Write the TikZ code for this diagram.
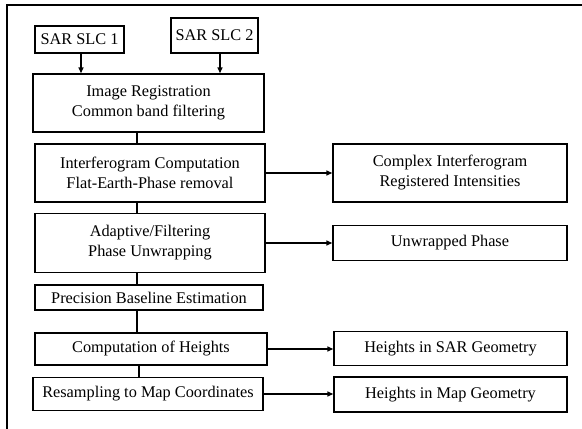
\documentclass[tikz,border=0pt]{standalone}
\usepackage{fontspec}
\setmainfont{Liberation Serif}
\usetikzlibrary{arrows.meta}
\begin{document}
\begin{tikzpicture}[x=1pt,y=-1pt,
  box/.style={draw=black,line width=1.4pt,inner sep=0pt,align=center,
    font=\fontsize{16.3}{20}\selectfont},
  link/.style={line width=1.4pt},
  arr/.style={line width=1.4pt,-{Triangle[length=6pt,width=5pt]}}]
\useasboundingbox (0,0) rectangle (582,429);
% outer frame (left and top edges)
\coordinate (ftl) at (7,5);
\coordinate (fbl) at (7,429);
\coordinate (ftr) at (582,5);
\draw[line width=1.4pt] (fbl) -- (ftl) -- (ftr);
% boxes
\node[box,minimum width=89pt,minimum height=27pt] (s1) at (79.5,39.5) {SAR SLC 1};
\node[box,minimum width=87pt,minimum height=35pt] (s2) at (214.5,35.5) {SAR SLC 2};
\node[box,minimum width=231pt,minimum height=58pt] (ir) at (148.5,103) {Image Registration\\Common band filtering};
\node[box,minimum width=230pt,minimum height=58pt] (ifg) at (150,173) {Interferogram Computation\\Flat-Earth-Phase removal};
\node[box,minimum width=230pt,minimum height=59pt] (af) at (150,243) {Adaptive/Filtering\\Phase Unwrapping};
\node[box,minimum width=228pt,minimum height=25pt] (pb) at (149,297.5) {Precision Baseline Estimation};
\node[box,minimum width=232pt,minimum height=32pt] (ch) at (151,349) {Computation of Heights};
\node[box,minimum width=230pt,minimum height=33pt] (rs) at (148,394) {Resampling to Map Coordinates};
\node[box,minimum width=234pt,minimum height=58pt] (ci) at (450,173) {Complex Interferogram\\Registered Intensities};
\node[box,minimum width=234pt,minimum height=35pt] (up) at (450,243) {Unwrapped Phase};
\node[box,minimum width=233pt,minimum height=34pt] (hs) at (450.5,348.5) {Heights in SAR Geometry};
\node[box,minimum width=233pt,minimum height=35pt] (hm) at (450.5,394.5) {Heights in Map Geometry};
% arrow x positions
\coordinate (a1) at (81,0);
\coordinate (a2) at (220,0);
\coordinate (lx) at (137,0);
\coordinate (lx2) at (139,0);
\draw[arr] (s1.south -| a1) -- (ir.north -| a1);
\draw[arr] (s2.south -| a2) -- (ir.north -| a2);
% vertical links
\draw[link] (ir.south -| lx) -- (ifg.north -| lx);
\draw[link] (ifg.south -| lx) -- (af.north -| lx);
\draw[link] (af.south -| lx) -- (pb.north -| lx);
\draw[link] (pb.south -| lx) -- (ch.north -| lx);
\draw[link] (ch.south -| lx2) -- (rs.north -| lx2);
% horizontal outputs
\draw[arr] (ifg.east) -- (ifg.east -| ci.west);
\draw[arr] (af.east) -- (af.east -| up.west);
\draw[arr] (ch.east) -- (ch.east -| hs.west);
\draw[arr] (rs.east) -- (rs.east -| hm.west);
\end{tikzpicture}
\end{document}
